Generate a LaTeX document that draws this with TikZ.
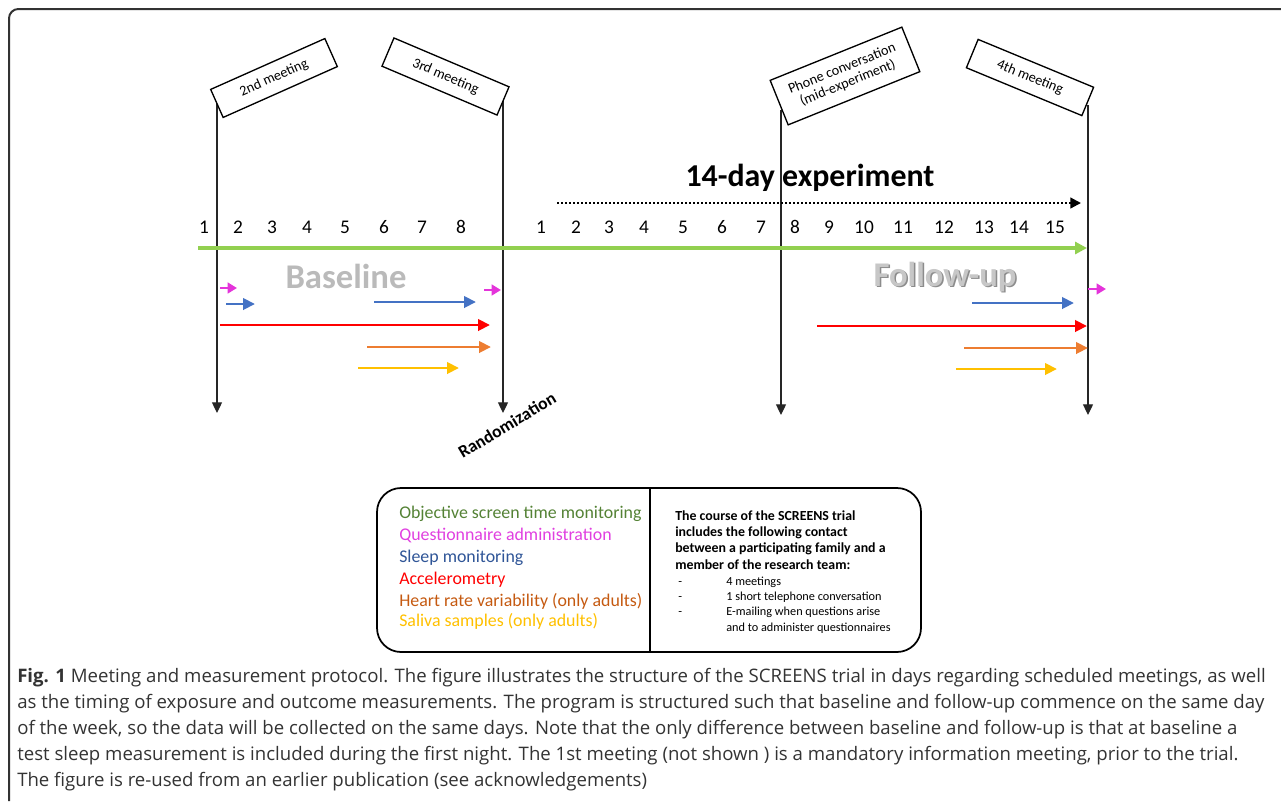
\documentclass[tikz,border=0pt]{standalone}
\usepackage{fontspec}
\setmainfont{Carlito}
\newfontfamily\capfont{Open Sans}
\usetikzlibrary{arrows.meta}
\definecolor{tlgreen}{HTML}{92D050}
\definecolor{qmag}{HTML}{E434DA}
\definecolor{sblue}{HTML}{4472C4}
\definecolor{ared}{HTML}{FF0000}
\definecolor{horange}{HTML}{ED7D31}
\definecolor{syellow}{HTML}{FFC000}
\definecolor{lgreen}{HTML}{548235}
\definecolor{lmag}{HTML}{E040E0}
\definecolor{lblue}{HTML}{2F5597}
\definecolor{lorange}{HTML}{C55A11}
\definecolor{capgray}{HTML}{333333}
\tikzset{
  daynum/.style={font=\fontsize{14.5}{16}\selectfont, anchor=base, inner sep=0pt},
  meetbox/.style={draw, fill=white, line width=1pt, minimum width=93.75pt, minimum height=23pt, inner sep=1pt, font=\fontsize{10.7}{11.5}\selectfont, align=center},
  vline/.style={draw=black!85, line width=0.9pt, -{Triangle[width=7.5pt,length=8pt]}},
  meas/.style={line width=2.2pt, -{Triangle[width=8.5pt,length=9pt]}},
  smallmeas/.style={line width=2pt, -{Triangle[width=8pt,length=7pt]}},
  phase/.style={font=\fontsize{26}{28}\selectfont\bfseries, text=black!27},
  legtext/.style={anchor=base west, inner sep=0pt, font=\fontsize{13.4}{14}\selectfont},
  rtext/.style={anchor=base west, inner sep=0pt, font=\fontsize{10.4}{11}\selectfont\bfseries},
  ritem/.style={anchor=base west, inner sep=0pt, font=\fontsize{9.2}{10}\selectfont},
  capline/.style={anchor=base west, inner sep=0pt, text=capgray, font=\capfont\fontsize{13.95}{15}\selectfont},
}
\begin{document}
\begin{tikzpicture}[x=0.75pt,y=-0.75pt]
\useasboundingbox (0,0) rectangle (1281,801);
% outer frame
\draw[black!80, line width=1.5pt, rounded corners=7pt] (9,801) -- (9,9) -- (1281,9);

% vertical meeting lines
\coordinate (m2t) at (217,100);
\coordinate (m2b) at (217,413);
\coordinate (m3t) at (503,100);
\coordinate (m3b) at (503,413);
\coordinate (pct) at (781,110);
\coordinate (pcb) at (781,415);
\coordinate (m4t) at (1088,105);
\coordinate (m4b) at (1088,415);
\draw[vline] (m2t) -- (m2b);
\draw[vline] (m3t) -- (m3b);
\draw[vline] (pct) -- (pcb);
\draw[vline] (m4t) -- (m4b);

% meeting boxes
\node[meetbox, rotate=24] (b2) at (274,78) {2nd meeting};
\node[meetbox, rotate=-23] (b3) at (445.5,76.5) {3rd meeting};
\node[meetbox, rotate=22, minimum width=106.5pt, minimum height=36pt] (bp) at (845,76) {Phone conversation\\(mid-experiment)};
\node[meetbox, rotate=-22.5] (b4) at (1030,77.5) {4th meeting};

% 14-day experiment
\node[font=\fontsize{23.9}{25}\selectfont\bfseries] (exp) at (810,178) {14-day experiment};
\coordinate (ea) at (557,203);
\coordinate (eb) at (1081,203);
\draw[line width=1.6pt, dash pattern=on 1.6pt off 1.4pt, -{Triangle[width=8pt,length=8pt]}] (ea) -- (eb);

% day numbers
\foreach \n/\x in {1/204,2/238,3/272,4/307,5/345,6/384,7/422,8/461}
  \node[daynum] (da\n) at (\x,233) {\n};
\foreach \n/\x in {1/541,2/576,3/609,4/644,5/683,6/722,7/761,8/795,9/829,10/864,11/903,12/944,13/984,14/1019,15/1055}
  \node[daynum] (db\n) at (\x,233) {\n};

% timeline
\coordinate (ga) at (198,248);
\coordinate (gb) at (1087,248);
\draw[tlgreen, line width=3pt, -{Triangle[width=9pt,length=9pt]}] (ga) -- (gb);

% phase labels
\node[phase] (base) at (346,276) {Baseline};
\node[phase, text=black!45] (fus) at (946.5,278.5) {Follow-up};
\node[phase, text=black!22] (fu) at (945,277) {Follow-up};

% baseline measurements
\coordinate (q1a) at (220,288); \coordinate (q1b) at (237,288);
\coordinate (q2a) at (484,290); \coordinate (q2b) at (501,290);
\coordinate (s1a) at (226,304); \coordinate (s1b) at (255,304);
\coordinate (s2a) at (374,302); \coordinate (s2b) at (476,302);
\coordinate (r1a) at (220,325); \coordinate (r1b) at (490,325);
\coordinate (o1a) at (367,347); \coordinate (o1b) at (491,347);
\coordinate (y1a) at (358,368); \coordinate (y1b) at (459,368);
\draw[smallmeas, qmag] (q1a) -- (q1b);
\draw[smallmeas, qmag] (q2a) -- (q2b);
\draw[meas, sblue] (s1a) -- (s1b);
\draw[meas, sblue] (s2a) -- (s2b);
\draw[meas, ared] (r1a) -- (r1b);
\draw[meas, horange] (o1a) -- (o1b);
\draw[meas, syellow] (y1a) -- (y1b);

% follow-up measurements
\coordinate (q3a) at (1088,289); \coordinate (q3b) at (1106,289);
\coordinate (s3a) at (972,303); \coordinate (s3b) at (1074,303);
\coordinate (r2a) at (817,326); \coordinate (r2b) at (1087,326);
\coordinate (o2a) at (964,348); \coordinate (o2b) at (1088,348);
\coordinate (y2a) at (956,369); \coordinate (y2b) at (1057,369);
\draw[smallmeas, qmag] (q3a) -- (q3b);
\draw[meas, sblue] (s3a) -- (s3b);
\draw[meas, ared] (r2a) -- (r2b);
\draw[meas, horange] (o2a) -- (o2b);
\draw[meas, syellow] (y2a) -- (y2b);

% randomization
\node[rotate=31, font=\fontsize{13.2}{14}\selectfont\bfseries] (rand) at (507,425) {Randomization};

% legend box
\draw[line width=1.3pt, rounded corners=18pt] (377,488) rectangle (921,652);
\coordinate (dvt) at (650,488);
\coordinate (dvb) at (650,652);
\draw[line width=0.8pt] (dvt) -- (dvb);
\node[legtext, text=lgreen] (l1) at (399,518) {Objective screen time monitoring};
\node[legtext, text=lmag] (l2) at (399,540) {Questionnaire administration};
\node[legtext, text=lblue] (l3) at (399,562) {Sleep monitoring};
\node[legtext, text=ared] (l4) at (399,584) {Accelerometry};
\node[legtext, text=lorange] (l5) at (399,606) {Heart rate variability (only adults)};
\node[legtext, text=syellow] (l6) at (399,626) {Saliva samples (only adults)};

\node[rtext] (t1) at (675,520) {The course of the SCREENS trial};
\node[rtext] (t2) at (675,536) {includes the following contact};
\node[rtext] (t3) at (675,552) {between a participating family and a};
\node[rtext] (t4) at (675,569) {member of the research team:};
\node[ritem] (i1d) at (678,585) {-};
\node[ritem] (i1) at (726,585) {4 meetings};
\node[ritem] (i2d) at (678,600) {-};
\node[ritem] (i2) at (726,600) {1 short telephone conversation};
\node[ritem] (i3d) at (678,615) {-};
\node[ritem] (i3) at (726,615) {E-mailing when questions arise};
\node[ritem] (i4) at (726,631) {and to administer questionnaires};

% caption
\node[capline] (c1) at (17,682) {\textbf{Fig. 1} Meeting and measurement protocol. The figure illustrates the structure of the SCREENS trial in days regarding scheduled meetings, as well};
\node[capline] (c2) at (17,708) {as the timing of exposure and outcome measurements. The program is structured such that baseline and follow-up commence on the same day};
\node[capline] (c3) at (17,734) {of the week, so the data will be collected on the same days. Note that the only difference between baseline and follow-up is that at baseline a};
\node[capline] (c4) at (17,760) {test sleep measurement is included during the first night. The 1st meeting (not shown ) is a mandatory information meeting, prior to the trial.};
\node[capline] (c5) at (17,786) {The figure is re-used from an earlier publication (see acknowledgements)};
\end{tikzpicture}
\end{document}
